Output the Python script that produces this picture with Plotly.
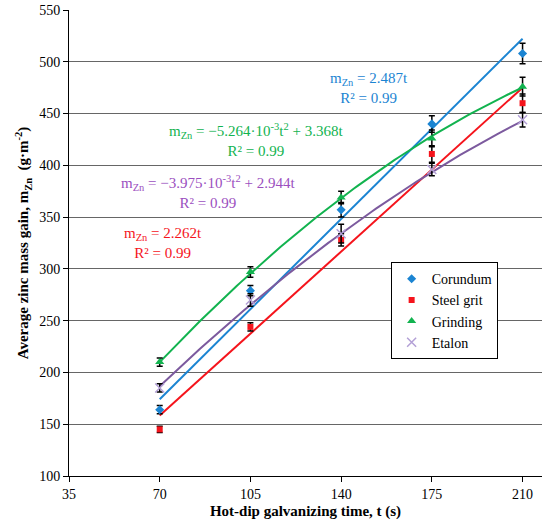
import numpy as np
import plotly.graph_objects as go

# Data
t = [70, 105, 140, 175, 210]

corundum = [164, 279, 357, 440, 508]
corundum_err = [4, 5, 7, 8, 10]
steel_grit = [145, 244, 328, 411, 460]
steel_grit_err = [3, 4, 6, 8, 9]
grinding = [210, 297, 369, 426, 476]
grinding_err = [4, 5, 6, 8, 9]
etalon = [185, 270, 334, 396, 444]
etalon_err = [4, 6, 9, 6, 7]

# trendline coefficients (a*t^2 + b*t) as printed on the chart
fit_corundum = [0, 2.487]
fit_steel_grit = [0, 2.262]
fit_grinding = [-5.264e-3, 3.368]
fit_etalon = [-3.975e-3, 2.944]

blue = "#1b84d2"
red = "#f5141c"
green = "#12b34f"
purple = "#7c5a9e"
font = "Liberation Serif, Times New Roman, serif"

series = [
    ("Corundum", corundum, corundum_err, fit_corundum, blue,
     dict(symbol="diamond", size=7, color=blue)),
    ("Steel grit", steel_grit, steel_grit_err, fit_steel_grit, red,
     dict(symbol="square", size=6, color=red)),
    ("Grinding", grinding, grinding_err, fit_grinding, green,
     dict(symbol="triangle-up", size=8, color=green)),
    ("Etalon", etalon, etalon_err, fit_etalon, purple,
     dict(symbol="x-thin", size=9, color="#b3a0d6", line=dict(width=1.5, color="#b3a0d6"))),
]

fig = go.Figure()

tt = np.linspace(min(t), max(t), 100)
for name, y, err, coef, col, mk in series:
    fig.add_trace(go.Scatter(
        x=tt, y=coef[0] * tt ** 2 + coef[1] * tt, mode="lines",
        line=dict(color=col, width=2), showlegend=False, hoverinfo="skip"
    ))

for name, y, err, coef, col, mk in series:
    fig.add_trace(go.Scatter(
        x=t, y=y, mode="markers", name=name, marker=mk,
        error_y=dict(type="data", array=err, color="black", thickness=1.5, width=3)
    ))

# equation labels
labels = [
    (150.8, 474.7, "m<sub>Zn</sub> = 2.487t<br>R² = 0.99", blue),
    (107.2, 424.5, "m<sub>Zn</sub> = −5.264·10<sup>-3</sup>t<sup>2</sup> + 3.368t<br>R² = 0.99", green),
    (88.6, 373.8, "m<sub>Zn</sub> = −3.975·10<sup>-3</sup>t<sup>2</sup> + 2.944t<br>R² = 0.99", "#9b4fc0"),
    (71.3, 325, "m<sub>Zn</sub> = 2.262t<br>R² = 0.99", red),
]
for x, y, txt, col in labels:
    fig.add_annotation(x=x, y=y, text=txt, showarrow=False,
                       font=dict(family=font, size=15, color=col), align="center")

tick_font = dict(family=font, size=14, color="black")

fig.update_layout(
    width=550, height=527,
    margin=dict(l=69, r=8, t=10, b=51, autoexpand=False),
    plot_bgcolor="white", paper_bgcolor="white",
    font=dict(family=font, size=14, color="black"),
    legend=dict(x=0.68, y=0.459, xanchor="left", yanchor="top",
                bgcolor="white", bordercolor="black", borderwidth=1,
                font=tick_font, tracegroupgap=0),
)
fig.update_xaxes(
    range=[35, 217.5], tickvals=[35, 70, 105, 140, 175, 210],
    showgrid=False, showline=True, linecolor="black", ticks="outside",
    ticklen=5, tickcolor="black", zeroline=False, automargin=False,
    tickfont=tick_font,
    title=dict(text="<b>Hot-dip galvanizing time, t (s)</b>", standoff=4,
               font=dict(family=font, size=15)),
)
fig.update_yaxes(
    range=[100, 550], dtick=50,
    showgrid=True, gridcolor="#666666", gridwidth=1,
    showline=True, linecolor="black", ticks="outside",
    ticklen=5, tickcolor="black", zeroline=False, automargin=False,
    ticklabeloverflow="allow", tickfont=tick_font,
    title=dict(text="<b>Average zinc mass gain, m<sub>Zn</sub>  (g·m<sup>-2</sup>)</b>",
               standoff=6, font=dict(family=font, size=15)),
)

# drop the default 8px page margin so the figure fills the window
fig.write_html("out.html", config={"displayModeBar": False},
               post_script="document.body.style.margin = '0';")
